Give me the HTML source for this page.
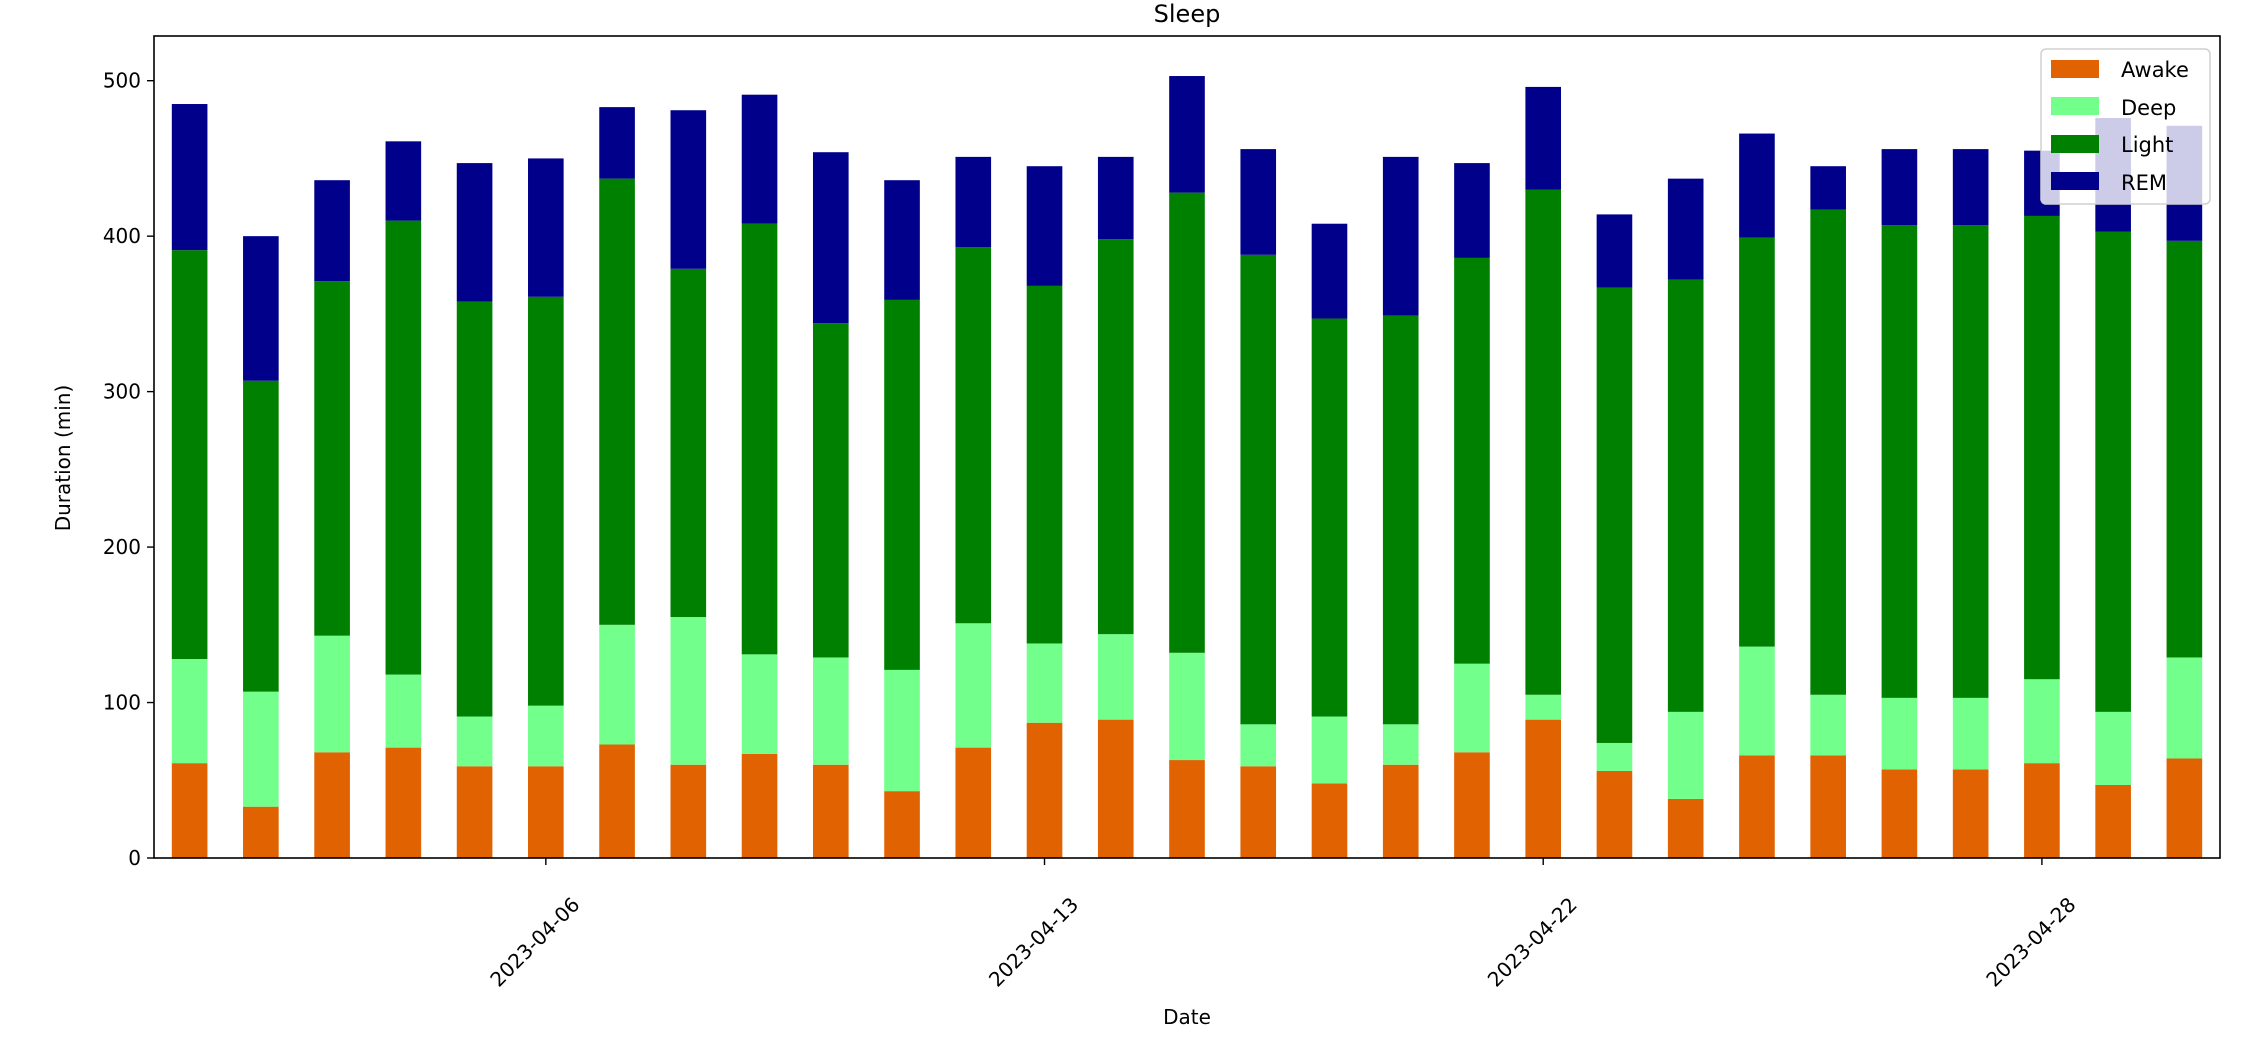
<!DOCTYPE html>
<html><head><meta charset="utf-8"><style>
html,body{margin:0;padding:0;background:#fff;}
svg text{font-family:"DejaVu Sans","Liberation Sans",sans-serif;fill:#000;}
</style></head><body>
<svg id="chart" width="2262" height="1052" xmlns="http://www.w3.org/2000/svg">
<text x="1187" y="22" font-size="24" text-anchor="middle">Sleep</text>
<g id="bars"></g>
<g id="axes"></g>
<text transform="translate(70,458) rotate(-90)" font-size="20" text-anchor="middle">Duration (min)</text>
<text x="1187" y="1024" font-size="20" text-anchor="middle">Date</text>
<g>
<rect x="2041" y="49" width="169" height="155" rx="5" fill="rgba(255,255,255,0.8)" stroke="#d0d0d0" stroke-width="1.5"/>
<rect x="2051" y="60" width="48" height="18" fill="#e06200"/>
<text x="2121" y="77" font-size="21">Awake</text>
<rect x="2051" y="97" width="48" height="18" fill="#72ff8c"/>
<text x="2121" y="115" font-size="21">Deep</text>
<rect x="2051" y="135" width="48" height="18" fill="#008000"/>
<text x="2121" y="152" font-size="21">Light</text>
<rect x="2051" y="172" width="48" height="18" fill="#00008b"/>
<text x="2121" y="190" font-size="21">REM</text>
</g>
</svg>
<script>
const awake=[61,33,68,71,59,59,73,60,67,60,43,71,87,89,63,59,48,60,68,89,56,38,66,66,57,57,61,47,64];
const deep=[67,74,75,47,32,39,77,95,64,69,78,80,51,55,69,27,43,26,57,16,18,56,70,39,46,46,54,47,65];
const light=[263,200,228,292,267,263,287,224,277,215,238,242,230,254,296,302,256,263,261,325,293,278,263,312,304,304,298,309,268];
const rem=[94,93,65,51,89,89,46,102,83,110,77,58,77,53,75,68,61,102,61,66,47,65,67,28,49,49,42,73,74];
const tickIdx=[5,12,19,26];
const tickLabels=["2023-04-06","2023-04-13","2023-04-22","2023-04-28"];
const yTicks=[0,100,200,300,400,500];

const L=154,R=2220,T=36,B=858;
const n=awake.length;
const step=(R-L)/n;
const xc=i=>L+(i+0.5)*step;
const y=v=>B-v*1.5546;
const NS="http://www.w3.org/2000/svg";
const bars=document.getElementById('bars');
const series=[["awake",awake,"#e06200"],["deep",deep,"#72ff8c"],["light",light,"#008000"],["rem",rem,"#00008b"]];
for(let i=0;i<n;i++){
  let base=0;
  for(const [nm,arr,col] of series){
    const r=document.createElementNS(NS,'rect');
    const top=base+arr[i];
    r.setAttribute('x',xc(i)-step*0.25);
    r.setAttribute('width',step*0.5);
    r.setAttribute('y',y(top));
    r.setAttribute('height',y(base)-y(top));
    r.setAttribute('fill',col);
    
    
    bars.appendChild(r);
    base=top;
  }
}
const ax=document.getElementById('axes');
ax.innerHTML='<rect x="'+L+'" y="'+T+'" width="'+(R-L)+'" height="'+(B-T)+'" fill="none" stroke="#000" stroke-width="1.6"/>';
yTicks.forEach(v=>{
  const l=document.createElementNS(NS,'line');
  l.setAttribute('x1',L-7);l.setAttribute('x2',L);l.setAttribute('y1',y(v));l.setAttribute('y2',y(v));
  l.setAttribute('stroke','#000');l.setAttribute('stroke-width','1.4');
  
  
  ax.appendChild(l);
  const t=document.createElementNS(NS,'text');
  t.setAttribute('x',L-13);t.setAttribute('y',y(v)+7);t.setAttribute('font-size','20');t.setAttribute('text-anchor','end');
  t.textContent=v;
  
  
  ax.appendChild(t);
});
tickIdx.forEach((idx,k)=>{
  const x=xc(idx);
  const l=document.createElementNS(NS,'line');
  l.setAttribute('x1',x);l.setAttribute('x2',x);l.setAttribute('y1',B);l.setAttribute('y2',B+7);
  l.setAttribute('stroke','#000');l.setAttribute('stroke-width','1.4');
  
  
  ax.appendChild(l);
  const t=document.createElementNS(NS,'text');
  t.setAttribute('transform','translate('+(x-11)+',942) rotate(-45)');
  t.setAttribute('font-size','20');t.setAttribute('text-anchor','middle');t.setAttribute('dy','7');
  t.textContent=tickLabels[k];
  
  
  ax.appendChild(t);
});
</script>
</body></html>
